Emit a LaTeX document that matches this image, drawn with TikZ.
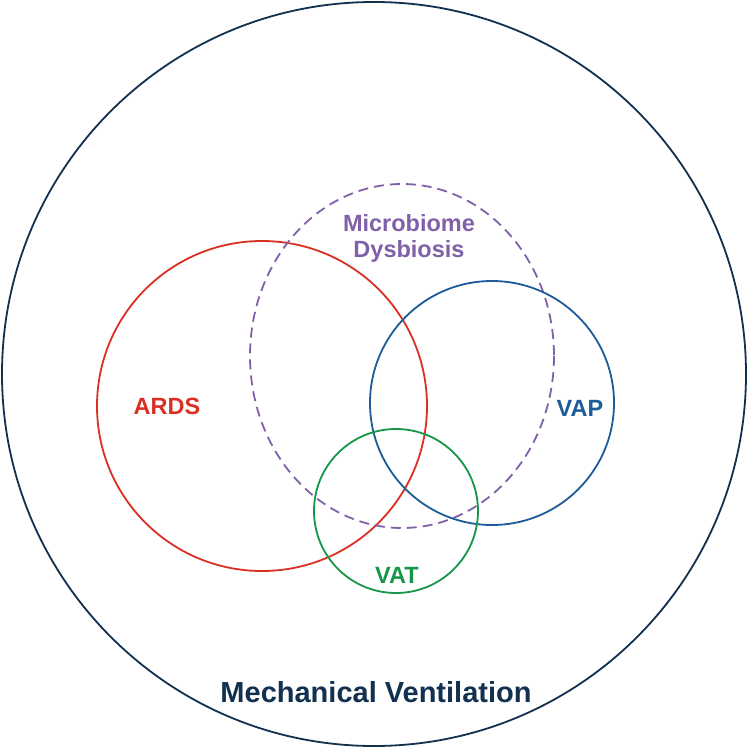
\documentclass[tikz,border=0pt]{standalone}
\usepackage{fontspec}
\setmainfont{Liberation Sans}
\definecolor{navyc}{RGB}{18,48,80}
\definecolor{redc}{RGB}{218,48,36}
\definecolor{purplec}{RGB}{128,96,168}
\definecolor{bluec}{RGB}{28,92,152}
\definecolor{greenc}{RGB}{22,150,72}
\begin{document}
\begin{tikzpicture}[x=1pt,y=-1pt,
  ring/.style={line width=1.8pt},
  lbl/.style={font=\fontsize{23.5}{26}\selectfont\bfseries, align=center}]
\useasboundingbox (0,0) rectangle (749,749);
\draw[ring, navyc] (374,374) circle (372);
\draw[ring, redc] (262,406) circle (165);
\draw[ring, purplec, dash pattern=on 10pt off 6pt] (402,356) ellipse (152 and 172);
\draw[ring, bluec] (492,403) circle (122);
\draw[ring, greenc] (396,511) circle (82);
\node[lbl, text=purplec] (micro) at (409,238) {Microbiome\\Dysbiosis};
\node[lbl, text=redc] (ards) at (167,406) {ARDS};
\node[lbl, text=bluec] (vap) at (580,408) {VAP};
\node[lbl, text=greenc] (vat) at (397,575) {VAT};
\node[lbl, text=navyc, font=\fontsize{29}{32}\selectfont\bfseries] (mv) at (376,692) {Mechanical Ventilation};
\end{tikzpicture}
\end{document}
